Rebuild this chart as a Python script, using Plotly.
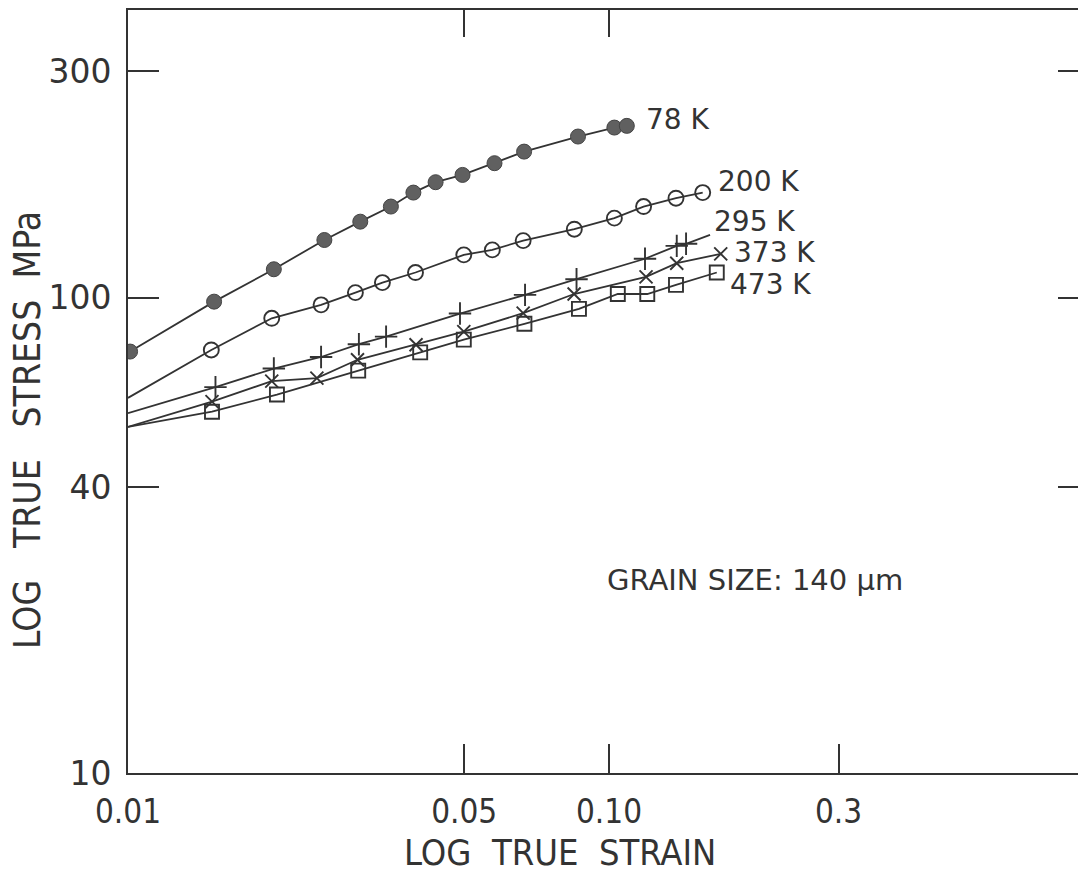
import plotly.graph_objects as go
import math

# ---------------- data ----------------
strain_78 = [0.0101, 0.0151, 0.0201, 0.0256, 0.0304, 0.0352, 0.0392, 0.0436, 0.0496, 0.0578, 0.0666, 0.0862, 0.1026, 0.1089]
stress_78 = [77.1, 98.2, 114.9, 132.4, 144.7, 155.7, 166.6, 175.2, 181.5, 192.1, 203.2, 218.6, 228.3, 230.2]

strain_200 = [0.0149, 0.0199, 0.0252, 0.0297, 0.0338, 0.0396, 0.0499, 0.0572, 0.0663, 0.0847, 0.1026, 0.118, 0.1378, 0.1566]
stress_200 = [77.7, 90.6, 96.7, 102.6, 107.7, 113.1, 123.2, 126.2, 132.0, 139.5, 147.2, 155.7, 162.1, 166.6]

strain_295 = [0.0152, 0.0201, 0.0252, 0.0302, 0.0344, 0.0490, 0.0669, 0.0856, 0.1188, 0.1383, 0.1446]
stress_295 = [64.9, 71.0, 75.1, 79.9, 82.9, 92.7, 101.5, 109.5, 120.9, 128.7, 130.0]

strain_373 = [0.01495, 0.0199, 0.0247, 0.0300, 0.0397, 0.0499, 0.0663, 0.0846, 0.1194, 0.1383, 0.1707]
stress_373 = [60.5, 66.8, 67.8, 74.1, 79.7, 84.9, 92.9, 101.9, 110.7, 118.3, 123.8]

strain_473 = [0.01495, 0.0204, 0.0301, 0.0405, 0.0499, 0.0667, 0.0866, 0.1043, 0.1201, 0.1378, 0.1675]
stress_473 = [57.6, 62.6, 70.3, 76.8, 81.7, 88.2, 94.8, 101.9, 101.9, 106.5, 113.1]

# fitted lines extended back to the axis (strain 0.01)
line_start_strain = 0.01
line_start_200 = 61.6
line_start_295 = 57.2
line_start_373 = 53.5
line_start_473 = 53.5
line_end_295 = (0.1622, 135.7)

x_ticks = [0.01, 0.05, 0.1, 0.3]
x_ticktext = ["0.01", "0.05", "0.10", "0.3"]
y_ticks = [10, 40, 100, 300]
y_ticktext = ["10", "40", "100", "300"]
top_ticks = [0.05, 0.1]
right_ticks = [40, 100, 300]

labels = ["78 K", "200 K", "295 K", "373 K", "473 K"]
label_pos = [(0.118, 237), (0.1665, 176), (0.1635, 144.5), (0.180, 124.5), (0.1768, 106.5)]

INK = "#333333"
FONT = "DejaVu Sans"
NARROW = "DejaVu Sans Condensed, Roboto, DejaVu Sans"

fig = go.Figure()

def add_line(xs, ys):
    fig.add_trace(go.Scatter(x=xs, y=ys, mode="lines",
                             line=dict(color=INK, width=1.8),
                             hoverinfo="skip", showlegend=False))

def add_markers(xs, ys, **mk):
    fig.add_trace(go.Scatter(x=xs, y=ys, mode="markers", marker=mk,
                             showlegend=False))

# 78 K
add_line(strain_78, stress_78)
add_markers(strain_78, stress_78, symbol="circle", size=15, color="#606060",
            line=dict(color="#444444", width=1))
# 200 K
add_line([line_start_strain] + strain_200, [line_start_200] + stress_200)
add_markers(strain_200, stress_200, symbol="circle-open", size=15,
            color=INK, line=dict(width=1.9))
# 295 K
add_line([line_start_strain] + strain_295 + [line_end_295[0]],
         [line_start_295] + stress_295 + [line_end_295[1]])
add_markers(strain_295, stress_295, symbol="cross-thin", size=16,
            line=dict(color=INK, width=1.9))
# 373 K
add_line([line_start_strain] + strain_373, [line_start_373] + stress_373)
add_markers(strain_373, stress_373, symbol="x-thin", size=13,
            line=dict(color=INK, width=1.9))
# 473 K
add_line([line_start_strain] + strain_473, [line_start_473] + stress_473)
add_markers(strain_473, stress_473, symbol="square-open", size=14,
            color=INK, line=dict(width=1.9))

for txt, (lx, ly) in zip(labels, label_pos):
    fig.add_annotation(x=math.log10(lx), y=math.log10(ly), xref="x", yref="y",
                       text=txt, showarrow=False, xanchor="left", yanchor="middle",
                       font=dict(family=FONT, size=28, color=INK))

fig.add_annotation(x=(605 - 128) / 950, y=(773 - 580) / 763, xref="paper", yref="paper",
                   text="GRAIN SIZE: 140 \u03bcm", showarrow=False,
                   xanchor="left", yanchor="middle",
                   font=dict(family=FONT, size=29, color=INK))

# axis titles
fig.add_annotation(x=(560 - 128) / 950, y=(773 - 852) / 763, xref="paper", yref="paper",
                   text="LOG\u00a0\u00a0TRUE\u00a0\u00a0STRAIN", showarrow=False,
                   xanchor="center", yanchor="middle",
                   font=dict(family=NARROW, size=36, color=INK))
fig.add_annotation(x=(27 - 128) / 950, y=(773 - 430) / 763, xref="paper", yref="paper",
                   text="LOG\u00a0\u00a0\u00a0TRUE\u00a0\u00a0\u00a0STRESS\u00a0\u00a0MPa",
                   showarrow=False,
                   textangle=-90, xanchor="center", yanchor="middle",
                   font=dict(family=NARROW, size=37, color=INK))

xr = [-2, -0.025]
yr = [1, 2.606]

fig.update_layout(
    width=1078, height=874,
    margin=dict(l=128, r=0, t=10, b=101, pad=0),
    paper_bgcolor="white", plot_bgcolor="white",
    showlegend=False,
    xaxis=dict(type="log", range=xr, tickvals=x_ticks, ticktext=x_ticktext,
               ticks="inside", ticklen=29, tickwidth=2, tickcolor=INK,
               showline=True, linewidth=2, linecolor=INK, mirror=True,
               showgrid=False, zeroline=False, ticklabelstandoff=8,
               tickfont=dict(family=NARROW, size=33, color=INK)),
    yaxis=dict(type="log", range=yr, tickvals=y_ticks, ticktext=y_ticktext,
               ticks="inside", ticklen=31, tickwidth=2, tickcolor=INK,
               showline=True, linewidth=2, linecolor=INK, mirror=False,
               showgrid=False, zeroline=False, ticklabelstandoff=8,
               tickfont=dict(family=FONT, size=33, color=INK)),
    xaxis2=dict(type="log", range=xr, overlaying="x", side="top", anchor="y",
                tickvals=top_ticks, ticks="inside", ticklen=27, tickwidth=2,
                tickcolor=INK, showticklabels=False, showline=False,
                showgrid=False, zeroline=False),
    yaxis2=dict(type="log", range=yr, overlaying="y", side="right", anchor="x",
                tickvals=right_ticks, ticks="inside", ticklen=20, tickwidth=2,
                tickcolor=INK, showticklabels=False, showline=False,
                showgrid=False, zeroline=False),
)

# invisible traces to activate secondary axes
fig.add_trace(go.Scatter(x=[0.05], y=[None], xaxis="x2", yaxis="y", mode="markers",
                         marker=dict(opacity=0), hoverinfo="skip", showlegend=False))
fig.add_trace(go.Scatter(x=[0.05], y=[None], xaxis="x", yaxis="y2", mode="markers",
                         marker=dict(opacity=0), hoverinfo="skip", showlegend=False))

fig.write_html("out.html")
